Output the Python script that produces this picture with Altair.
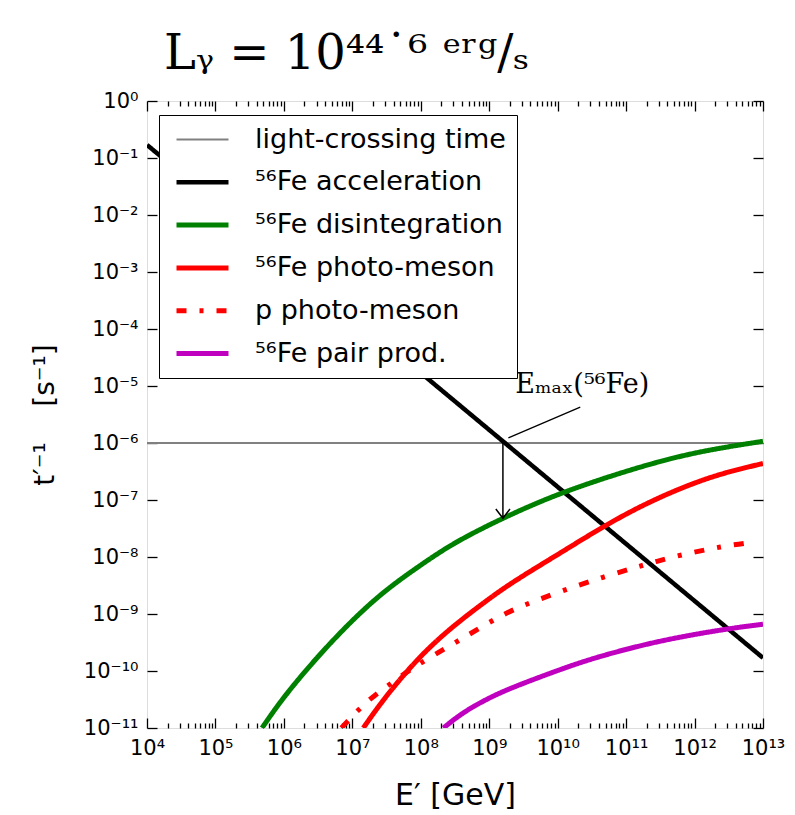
import altair as alt
import pandas as pd

# ---------------- data (log10 values) ----------------
series_order = ["light-crossing time", "⁵⁶Fe acceleration", "⁵⁶Fe disintegration",
                "⁵⁶Fe photo-meson", "p photo-meson", "⁵⁶Fe pair prod."]
series_colors = ["#808080", "#000000", "#008000", "#ff0000", "#ff0000", "#bf00bf"]
series_widths = [2, 4.5, 5, 5, 5, 5]
series_dash = [[1, 0], [1, 0], [1, 0], [1, 0], [10, 13, 4, 13], [1, 0]]

light_logE = [4, 13]
light_logt = [-6, -6]

accel_logE = [4, 13]
accel_logt = [-0.77, -9.77]

disint_logE = [5.68, 5.99, 6.49, 6.97, 7.45, 7.95, 8.43, 8.91, 9.20, 10.04, 11.5, 12.3, 13]
disint_logt = [-11.0, -10.46, -9.75, -9.14, -8.61, -8.18, -7.79, -7.49, -7.32, -6.86, -6.30, -6.10, -5.97]

fe_pm_logE = [7.16, 7.45, 7.95, 8.43, 8.91, 9.31, 10.04, 10.67, 11.3, 11.98, 12.5, 13]
fe_pm_logt = [-11.0, -10.5, -9.78, -9.25, -8.81, -8.46, -7.93, -7.46, -7.05, -6.70, -6.50, -6.36]

p_pm_logE = [6.84, 7.11, 7.33, 7.60, 7.87, 8.39, 8.65, 8.91, 9.19, 9.45, 10.04, 10.67, 11.25, 11.8, 12.42, 12.79]
p_pm_logt = [-11.0, -10.65, -10.42, -10.19, -9.95, -9.58, -9.40, -9.21, -9.02, -8.87, -8.60, -8.35, -8.14, -7.96, -7.81, -7.75]

pair_logE = [8.33, 8.62, 9.0, 9.31, 10.04, 10.58, 11.5, 12.52, 13]
pair_logt = [-11.0, -10.72, -10.47, -10.30, -9.97, -9.75, -9.46, -9.25, -9.18]

# annotation (E_max marker)
emax_logE = 9.20
emax_top_logt = -6.0
emax_tip_logt = -7.32
leader_logE = [9.28, 10.33]
leader_logt = [-5.91, -5.37]
emax_label = "Eₘₐₓ(⁵⁶Fe)"
emax_label_logE = 9.38
emax_label_logt = -5.12

x_exponents = list(range(4, 14))
y_exponents = list(range(-11, 1))
minor_multipliers = [2, 3, 4, 5, 6, 7, 8, 9]

title_text = "Lᵧ = 10⁴⁴˙⁶ ᵉʳᵍ/ₛ"
x_title = "E′\u00a0[GeV]"
y_title = "t′⁻¹\u00a0\u00a0\u00a0\u00a0[s⁻¹]"

# ---------------- build tables ----------------
rows = []
for name, le, lt in zip(series_order,
                        [light_logE, accel_logE, disint_logE, fe_pm_logE, p_pm_logE, pair_logE],
                        [light_logt, accel_logt, disint_logt, fe_pm_logt, p_pm_logt, pair_logt]):
    for i, (a, b) in enumerate(zip(le, lt)):
        rows.append({"series": name, "E": 10.0 ** a, "t": 10.0 ** b, "i": i})
df = pd.DataFrame(rows)

arrow_df = pd.DataFrame({"E": [10.0 ** emax_logE], "t": [10.0 ** emax_top_logt],
                         "t2": [10.0 ** emax_tip_logt]})
leader_df = pd.DataFrame({"E": [10.0 ** leader_logE[0]], "E2": [10.0 ** leader_logE[1]],
                          "t": [10.0 ** leader_logt[0]], "t2": [10.0 ** leader_logt[1]]})
label_df = pd.DataFrame({"E": [10.0 ** emax_label_logE], "t": [10.0 ** emax_label_logt],
                         "label": [emax_label]})

SUP = str.maketrans("0123456789-", "⁰¹²³⁴⁵⁶⁷⁸⁹⁻")


def label_expr(exps):
    e = "round(log(datum.value)/LN10)"
    parts = [f"{e} == {k} ? '10{str(k).translate(SUP)}'" for k in exps]
    return " : ".join(parts) + " : ''"


x_major = [10.0 ** k for k in x_exponents]
x_minor = [m * 10.0 ** k for k in x_exponents[:-1] for m in minor_multipliers]
y_major = [10.0 ** k for k in y_exponents]

W, H = 616, 627
xscale = alt.Scale(type="log", domain=[1e4, 1e13])
yscale = alt.Scale(type="log", domain=[1e-11, 1])

legend = alt.Legend(orient="none", legendX=12, legendY=14, title=None,
                    symbolType="M-3.25,0H3.25", symbolSize=256, symbolStrokeWidth=4.5,
                    symbolFillColor="transparent", symbolOffset=19,
                    labelFont="DejaVu Sans", labelFontSize=27, labelColor="black",
                    fillColor="white", strokeColor="black", padding=11,
                    rowPadding=14.8, labelOffset=39, labelLimit=500)

main_x = alt.X("E:Q", scale=xscale, axis=alt.Axis(
    values=x_major, labelExpr=label_expr(x_exponents), ticks=False, domain=False,
    grid=False, labelFont="DejaVu Sans", labelFontSize=21, labelColor="black",
    labelPadding=9, labelFlush=False, labelOverlap=False, title=x_title,
    titleFont="DejaVu Sans", titleFontSize=30, titleFontWeight="normal",
    titleColor="black", titleY=67, titleBaseline="middle"))
main_y = alt.Y("t:Q", scale=yscale, axis=alt.Axis(
    values=y_major, labelExpr=label_expr(y_exponents), ticks=False, domain=False,
    grid=False, labelFont="DejaVu Sans", labelFontSize=21, labelColor="black",
    labelPadding=9, labelFlush=False, labelOverlap=False, title=y_title,
    titleFont="DejaVu Sans", titleFontSize=28, titleFontWeight="normal",
    titleColor="black", titleX=-102, titleY=H / 2, titleBaseline="middle",
    titleAlign="center", titleAngle=-90))

lines = alt.Chart(df).mark_line(clip=True, interpolate="basis").encode(
    x=main_x, y=main_y,
    order="i:Q",
    color=alt.Color("series:N", scale=alt.Scale(domain=series_order, range=series_colors),
                    legend=legend),
    strokeDash=alt.StrokeDash("series:N", scale=alt.Scale(domain=series_order, range=series_dash),
                              legend=legend),
    strokeWidth=alt.StrokeWidth("series:N", scale=alt.Scale(type="ordinal", domain=series_order,
                                                            range=series_widths),
                                legend=None),
)


def tick_layer(channel, orient, offset, values, size):
    ax = alt.Axis(orient=orient, offset=offset, values=values, tickSize=size,
                  labels=False, domain=False, grid=False, ticks=True, title=None,
                  tickColor="black", tickWidth=1.3)
    if channel == "x":
        enc = dict(x=alt.X("E:Q", scale=xscale, axis=ax),
                   y=alt.Y("t:Q", scale=yscale, axis=None))
    else:
        enc = dict(x=alt.X("E:Q", scale=xscale, axis=None),
                   y=alt.Y("t:Q", scale=yscale, axis=ax))
    return alt.Chart(df).mark_line(strokeOpacity=0).encode(**enc)


ticks = [
    tick_layer("x", "top", -H, x_major, 10),     # bottom edge, pointing up
    tick_layer("x", "top", -H, x_minor, 5),
    tick_layer("x", "bottom", -H, x_major, 10),  # top edge, pointing down
    tick_layer("x", "bottom", -H, x_minor, 5),
    tick_layer("y", "right", -W, y_major, 10),   # left edge, pointing right
    tick_layer("y", "left", -W, y_major, 10),    # right edge, pointing left
]

arrow_rule = alt.Chart(arrow_df).mark_rule(color="black", strokeWidth=1.5).encode(
    x=alt.X("E:Q", scale=xscale, axis=None),
    y=alt.Y("t:Q", scale=yscale, axis=None),
    y2="t2:Q")
arrow_head = alt.Chart(arrow_df).mark_point(
    shape="M-1,-1.3L0,0L1,-1.3", filled=False, color="black", strokeWidth=1.5,
    size=200, opacity=1).encode(
    x=alt.X("E:Q", scale=xscale, axis=None),
    y=alt.Y("t2:Q", scale=yscale, axis=None))
leader = alt.Chart(leader_df).mark_rule(color="black", strokeWidth=1.3).encode(
    x=alt.X("E:Q", scale=xscale, axis=None), x2="E2:Q",
    y=alt.Y("t:Q", scale=yscale, axis=None), y2="t2:Q")
label = alt.Chart(label_df).mark_text(align="left", baseline="alphabetic",
                                      font="DejaVu Serif", fontSize=27, color="black").encode(
    x=alt.X("E:Q", scale=xscale, axis=None),
    y=alt.Y("t:Q", scale=yscale, axis=None),
    text="label:N")

chart = alt.layer(lines, *ticks, arrow_rule, arrow_head, leader, label).resolve_axis(
    x="independent", y="independent"
).properties(
    width=W, height=H,
    title=alt.TitleParams(title_text, anchor="start", dx=133, dy=60, fontSize=48,
                          font="DejaVu Serif", fontWeight="normal", offset=33,
                          baseline="alphabetic", color="black"),
    autosize=alt.AutoSizeParams(type="none"),
    padding={"left": 147, "top": 101, "right": 32, "bottom": 87},
).configure_view(stroke="black", strokeWidth=2.5).configure(background="white")

chart.save("out.html", embed_options={"renderer": "svg", "actions": False})
